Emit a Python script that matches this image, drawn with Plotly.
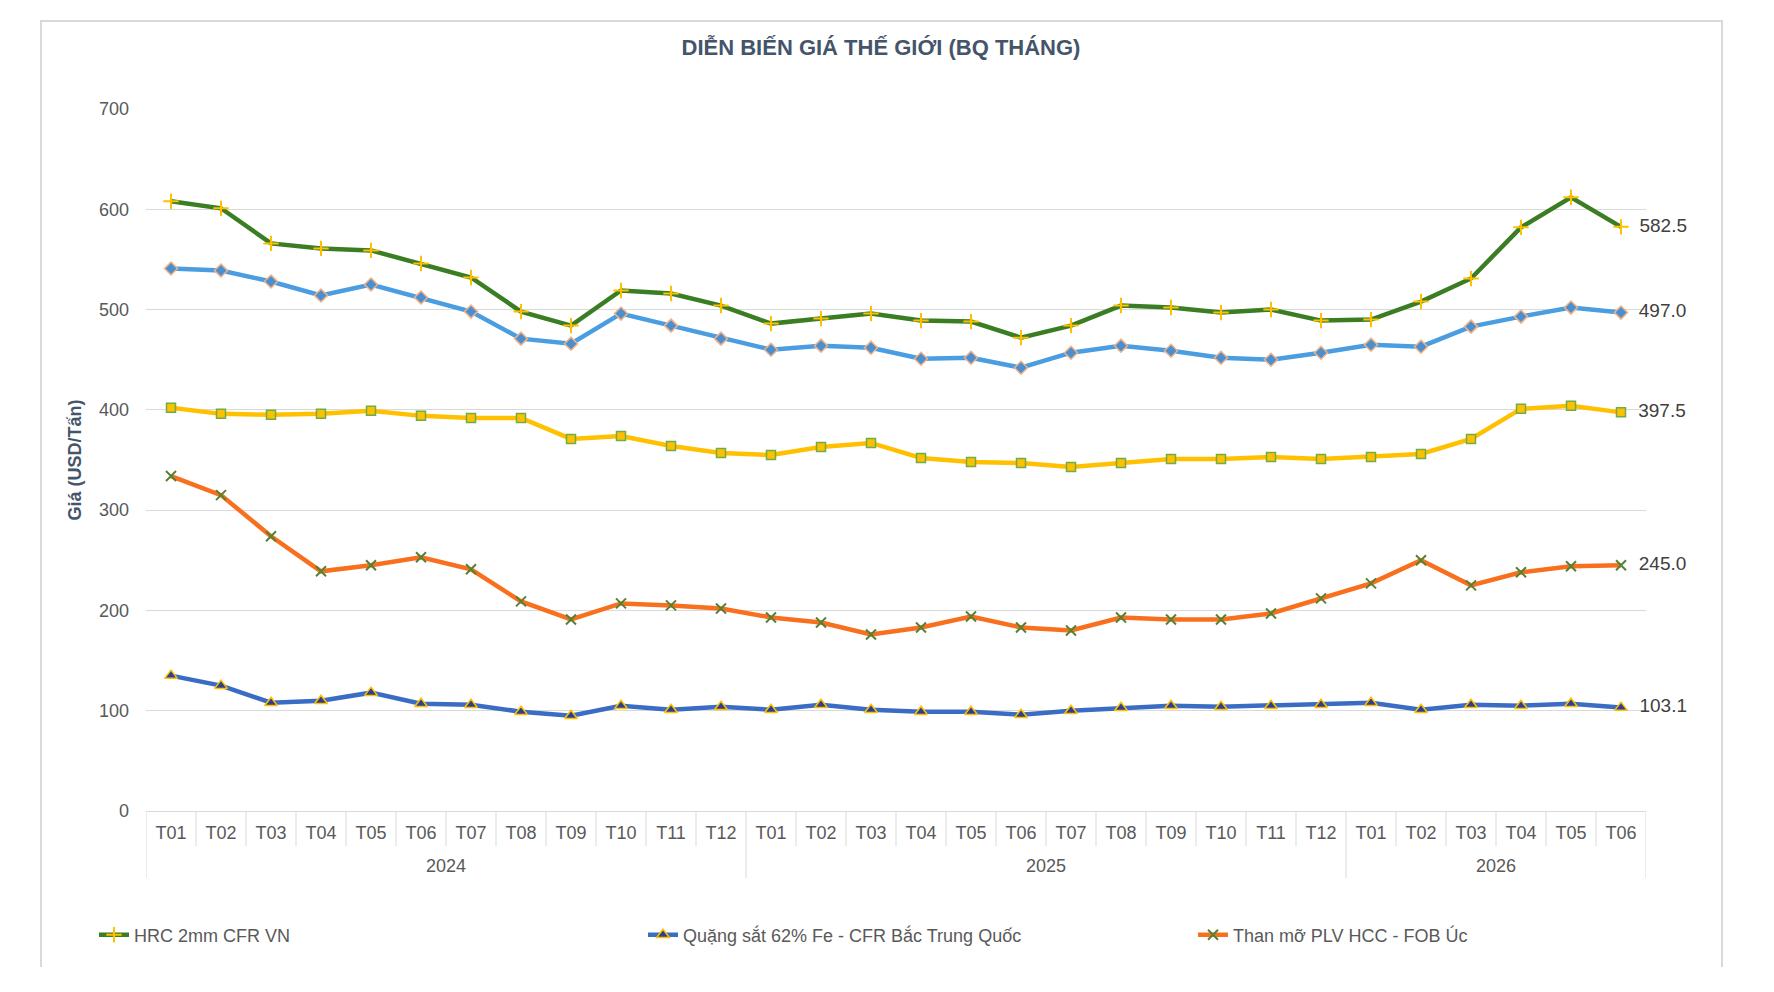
import plotly.graph_objects as go

years = ["2024"] * 12 + ["2025"] * 12 + ["2026"] * 6
months = [f"T{m:02d}" for m in range(1, 13)] * 2 + [f"T{m:02d}" for m in range(1, 7)]

hrc = [608, 601, 566, 561, 559, 546, 532, 498, 484, 519, 516, 504,
       486, 491, 496, 489, 488, 472, 484, 504, 502, 497, 500, 489,
       490, 508, 531, 582, 612, 582.5]
billet = [541, 539, 528, 514, 525, 512, 498, 471, 466, 496, 484, 471,
          460, 464, 462, 451, 452, 442, 457, 464, 459, 452, 450, 457,
          465, 463, 483, 493, 502, 497.0]
scrap = [402, 396, 395, 396, 399, 394, 392, 392, 371, 374, 364, 357,
         355, 363, 367, 352, 348, 347, 343, 347, 351, 351, 353, 351,
         353, 356, 371, 401, 404, 397.5]
coal = [334, 315, 274, 239, 245, 253, 241, 209, 191, 207, 205, 202,
        193, 188, 176, 183, 194, 183, 180, 193, 191, 191, 197, 212,
        227, 250, 225, 238, 244, 245.0]
ore = [135, 125, 108, 110, 118, 107, 106, 99, 95, 105, 101, 104,
       101, 106, 101, 99, 99, 96, 100, 103, 105, 104, 105, 106,
       108, 101, 106, 105, 107, 103.1]

keys = [f"{y}-{m}" for y, m in zip(years, months)]

def last_label(vals):
    return [""] * (len(vals) - 1) + [f"  {vals[-1]:.1f}"]

series = [
    # name, values, line color, marker symbol, marker size, marker fill, marker outline, legend id
    ("HRC 2mm CFR VN", hrc, "#3b7d23", "cross-thin", 11, "#ffc000", "#ffc000", "legend"),
    ("Phôi thép", billet, "#4a9de0", "diamond", 10, "#4a8fd0", "#f4b183", None),
    ("Thép phế", scrap, "#ffc000", "square", 9, "#ffc000", "#70ad47", None),
    ("Than mỡ PLV HCC - FOB Úc", coal, "#f8701e", "x-thin", 10, "#548235", "#548235", "legend3"),
    ("Quặng sắt 62% Fe - CFR Bắc Trung Quốc", ore, "#3a6cc4", "triangle-up", 11, "#2f3f8f", "#ffc000", "legend2"),
]

fig = go.Figure()
for name, vals, lc, sym, msize, mfill, mline, leg in series:
    thin = sym.endswith("-thin")
    fig.add_trace(go.Scatter(
        x=keys, y=vals, name=name, mode="lines+markers+text",
        line=dict(color=lc, width=4.5),
        marker=dict(symbol=sym, size=msize, color=mfill,
                    line=dict(color=mline, width=2 if thin else 1.5)),
        text=last_label(vals), textposition="middle right",
        textfont=dict(family="Liberation Sans, Arial", size=19, color="#404040"),
        showlegend=leg is not None, legend=leg if leg else "legend",
        cliponaxis=False,
    ))

L, R, T, B = 146, 1646, 109, 811
W, H = 1774, 992
def px(xp):
    return (xp - L) / (R - L)
def py(yp):
    return (B - yp) / (B - T)

n = len(keys)
grid_col = "#d9d9d9"
shapes = [dict(type="path", xref="paper", yref="paper",
               path=f"M {px(41)} {py(967)} L {px(41)} {py(21)} L {px(1722)} {py(21)} L {px(1722)} {py(967)}",
               line=dict(color=grid_col, width=2), layer="below")]
# category separators (month boundaries short, year boundaries long)
for i in range(n + 1):
    is_year_edge = i == 0 or i == n or years[i] != years[i - 1]
    shapes.append(dict(type="line", xref="x", yref="paper",
                       x0=i - 0.5, x1=i - 0.5, y0=0, y1=py(878 if is_year_edge else 846),
                       line=dict(color=grid_col, width=1), layer="below"))

annotations = []
for yr in dict.fromkeys(years):
    idx = [i for i, y in enumerate(years) if y == yr]
    annotations.append(dict(x=(idx[0] + idx[-1]) / 2, xref="x", y=py(866), yref="paper",
                            text=yr, showarrow=False, yanchor="middle",
                            font=dict(size=18, color="#595959", family="Liberation Sans, Arial")))

leg_common = dict(orientation="h", yanchor="middle", y=py(935), xanchor="left",
                  font=dict(size=18, color="#595959"), itemwidth=30, bgcolor="rgba(0,0,0,0)")

fig.update_layout(
    width=W, height=H,
    paper_bgcolor="white", plot_bgcolor="white",
    margin=dict(l=L, r=W - R, t=T, b=H - B),
    font=dict(family="Liberation Sans, Arial", color="#595959"),
    title=dict(text="<b>DIỄN BIẾN GIÁ THẾ GIỚI (BQ THÁNG)</b>",
               x=881 / W, xref="container", xanchor="center",
               y=1 - 47 / H, yref="container", yanchor="middle",
               font=dict(size=22, color="#44546a", family="Liberation Sans, Arial")),
    legend=dict(x=px(94), **leg_common),
    legend2=dict(x=px(643), **leg_common),
    legend3=dict(x=px(1193), **leg_common),
    yaxis=dict(range=[0, 700], dtick=100, showgrid=True, gridcolor=grid_col, gridwidth=1,
               zeroline=False, showline=False, ticks="", ticklabelstandoff=16,
               tickfont=dict(size=18, color="#595959"),
               title=dict(text="<b>Giá (USD/Tấn)</b>", standoff=12,
                          font=dict(size=18, color="#44546a"))),
    xaxis=dict(type="category", range=[-0.5, n - 0.5], showgrid=False,
               showline=True, linecolor=grid_col, linewidth=1, ticks="",
               tickvals=keys, ticktext=months, tickangle=0, ticklabelstandoff=5,
               tickfont=dict(size=18, color="#595959")),
    shapes=shapes,
    annotations=annotations,
)

fig.write_html("out.html")
